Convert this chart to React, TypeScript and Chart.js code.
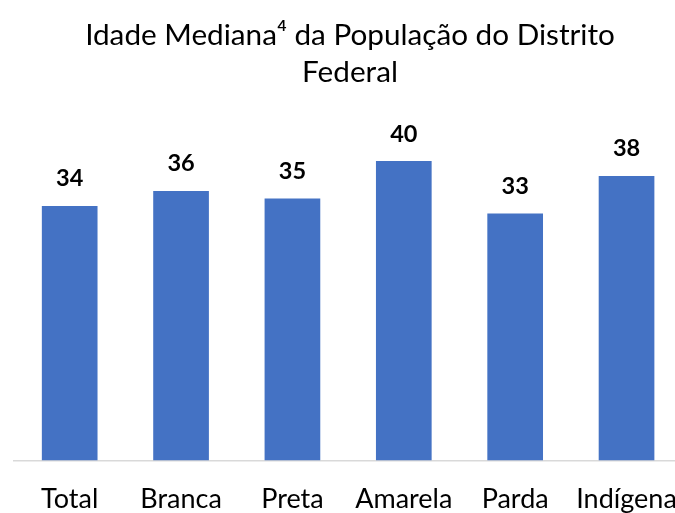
import React, { useEffect, useRef } from "react";
import { Chart, registerables } from "chart.js";

Chart.register(...registerables);

const categories = ["Total", "Branca", "Preta", "Amarela", "Parda", "Indígena"];
const medianAge = [34, 36, 35, 40, 33, 38];
const titleLines = ["Idade Mediana⁴ da População do Distrito", "Federal"];

const FONT = "Lato, 'Noto Sans', sans-serif";

const valueLabels = {
  id: "valueLabels",
  afterDatasetsDraw(chart: any) {
    const ctx = chart.ctx;
    const meta = chart.getDatasetMeta(0);
    const data = chart.data.datasets[0].data as number[];
    ctx.save();
    ctx.font = `bold 23.5px ${FONT}`;
    ctx.fillStyle = "#000000";
    ctx.textAlign = "center";
    ctx.textBaseline = "middle";
    meta.data.forEach((bar: any, i: number) => {
      ctx.fillText(String(data[i]), bar.x, bar.y - 27);
    });
    ctx.restore();
  },
};

export default function App() {
  const ref = useRef<HTMLCanvasElement>(null);
  useEffect(() => {
    if (!ref.current) return;
    const chart = new Chart(ref.current, {
      type: "bar",
      data: {
        labels: categories,
        datasets: [
          {
            data: medianAge,
            backgroundColor: "#4472C4",
            barPercentage: 0.5,
            categoryPercentage: 1,
          },
        ],
      },
      options: {
        animation: false,
        responsive: false,
        maintainAspectRatio: false,
        layout: { padding: { left: 14, right: 14, top: 0, bottom: 2 } },
        plugins: {
          legend: { display: false },
          tooltip: { enabled: false },
          title: {
            display: true,
            text: titleLines,
            color: "#000000",
            font: { family: FONT, size: 29.7, weight: "normal", lineHeight: "37px" } as any,
            padding: { top: 17, bottom: 10 },
          },
        },
        scales: {
          x: {
            grid: { display: false, drawTicks: false },
            border: { display: true, color: "#D9D9D9", width: 1.5 },
            ticks: {
              color: "#000000",
              font: { family: FONT, size: 27 },
              padding: 22,
              maxRotation: 0,
              autoSkip: false,
            },
          },
          y: {
            display: false,
            min: 0,
            max: 48,
          },
        },
      },
      plugins: [valueLabels],
    });
    return () => chart.destroy();
  }, []);
  return (
    <div style={{ position: "fixed", left: 0, top: 0, width: 700, height: 513, overflow: "hidden", background: "#fff" }}>
      <canvas ref={ref} width={700} height={539} style={{ width: 700, height: 539 }} />
    </div>
  );
}
